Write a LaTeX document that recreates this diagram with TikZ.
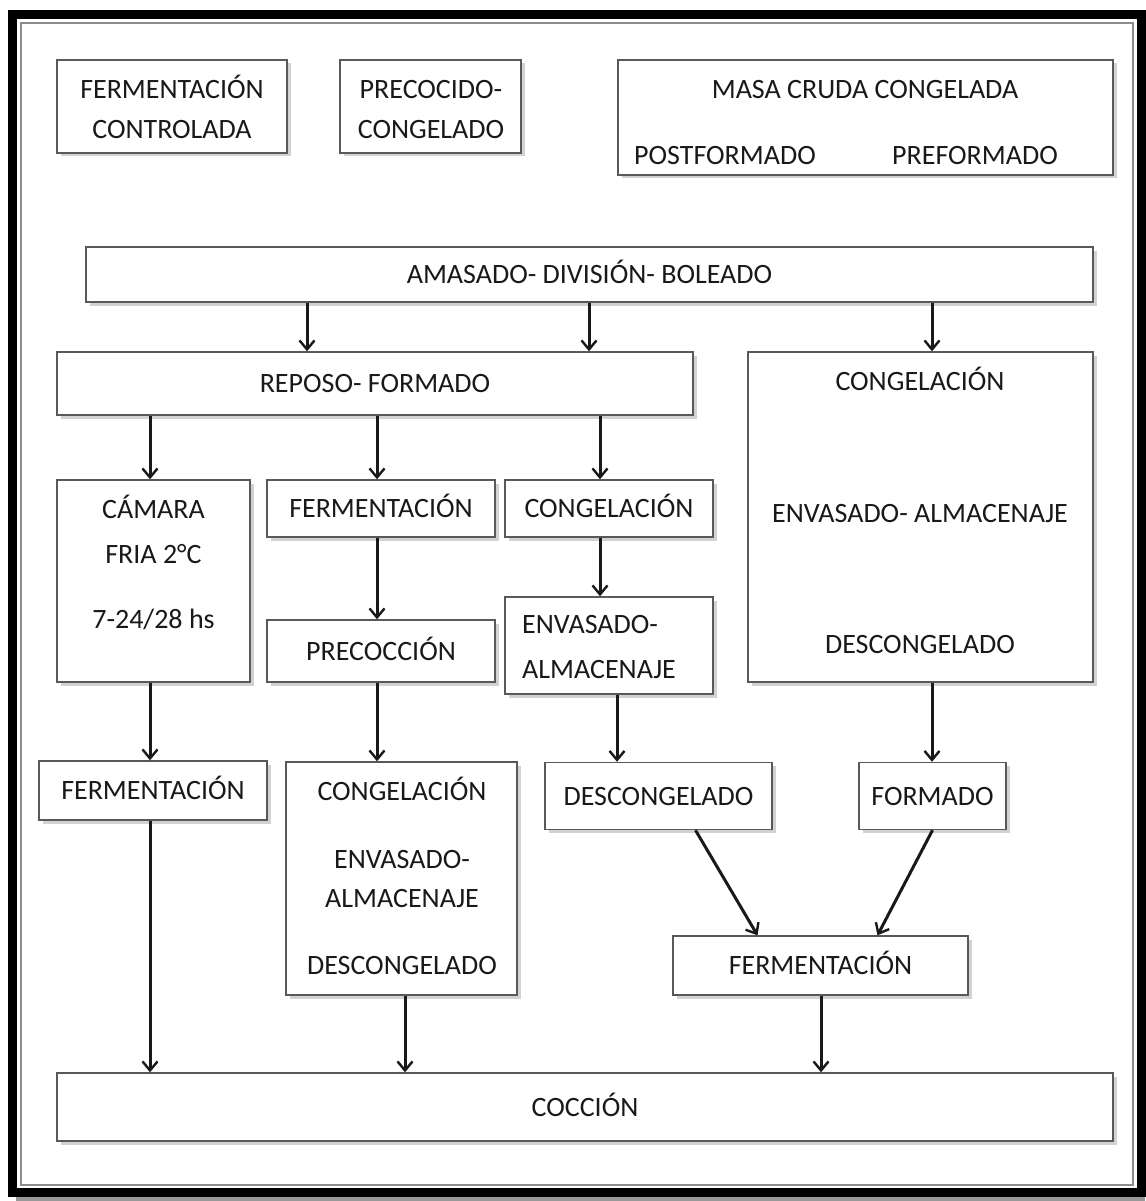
\documentclass[tikz,border=0pt]{standalone}
\usepackage{fontspec}
\setmainfont{Carlito}
\usetikzlibrary{arrows.meta,shadows}
\newcommand\boxfont{\fontsize{28}{34}\selectfont}

\begin{document}
\begin{tikzpicture}[x=1pt, y=-1pt, font=\boxfont]
    \tikzset{box/.style={draw=black!65, line width=1.4pt, fill=white, inner sep=0pt,
        drop shadow={shadow xshift=3.5pt, shadow yshift=-3.5pt, opacity=0.35},
        text=black!90, text height=18pt, text depth=0pt},
      txt/.style={inner sep=0pt, text=black!90, text height=18pt, text depth=0pt},
      arr/.style={draw=black!90, line width=3pt, -{Straight Barb[length=9pt,width=15pt,line width=2.4pt]}}}

    \useasboundingbox[fill=white] (0,0) rectangle (1145,1201);

    % Outer frame
    \draw[line width=9pt] (12,15) rectangle (1141,1192);
    \draw[black!45, line width=1.5pt] (21,23) rectangle (1133,1185);
    \draw[black!40, line width=4pt] (16,1199) -- (1145,1199);

    % Top row (types of process)
    \node[box, minimum width=230, minimum height=93] (ferctl) at (172,106.5) {};
    \node[txt] (ferctl1) at (172,90) {FERMENTACIÓN};
    \node[txt] (ferctl2) at (172,130) {CONTROLADA};
    \node[box, minimum width=181, minimum height=93] (precoc) at (430.5,106.5) {};
    \node[txt] (precoc1) at (431,90) {PRECOCIDO-};
    \node[txt] (precoc2) at (431,130) {CONGELADO};
    \node[box, minimum width=495, minimum height=115] (masa) at (865.5,117.5) {};
    \node[txt] (masa1) at (865,90) {MASA CRUDA CONGELADA};
    \node[txt] (masa2) at (725,156) {POSTFORMADO};
    \node[txt] (masa3) at (975,156) {PREFORMADO};

    % Common steps
    \node[box, minimum width=1007, minimum height=55] (amasado) at (589.5,274.5) {AMASADO- DIVISIÓN- BOLEADO};
    \node[box, minimum width=636, minimum height=63] (reposo) at (375,383.5) {REPOSO- FORMADO};
    \node[box, minimum width=345, minimum height=330] (congr) at (920.5,517) {};
    \node[txt] (congr1) at (920,381) {CONGELACIÓN};
    \node[txt] (congr2) at (920,513) {ENVASADO- ALMACENAJE};
    \node[txt] (congr3) at (920,644) {DESCONGELADO};

    % Second level
    \node[box, minimum width=193, minimum height=202] (camara) at (153.5,581) {};
    \node[txt] (camara1) at (153.5,509) {CÁMARA};
    \node[txt] (camara2) at (153.5,554) {FRIA 2°C};
    \node[txt] (camara3) at (153.5,619) {7-24/28 hs};
    \node[box, minimum width=228, minimum height=57] (ferm2) at (381,508.5) {FERMENTACIÓN};
    \node[box, minimum width=208, minimum height=57] (cong3) at (609,508.5) {CONGELACIÓN};
    \node[box, minimum width=228, minimum height=62] (precoccion) at (381,651) {PRECOCCIÓN};
    \node[box, minimum width=208, minimum height=97] (envas3) at (609,645.5) {};
    \node[txt, anchor=west] (envas31) at (522,624) {ENVASADO-};
    \node[txt, anchor=west] (envas32) at (522,669) {ALMACENAJE};

    % Third level
    \node[box, minimum width=228, minimum height=59] (ferm1) at (153,790.5) {FERMENTACIÓN};
    \node[box, minimum width=231, minimum height=233] (cong2) at (401.5,878.5) {};
    \node[txt] (cong21) at (402,791) {CONGELACIÓN};
    \node[txt] (cong22) at (402,859) {ENVASADO-};
    \node[txt] (cong23) at (402,898) {ALMACENAJE};
    \node[txt] (cong24) at (402,965) {DESCONGELADO};
    \node[box, minimum width=227, minimum height=67] (descong3) at (658.5,796) {DESCONGELADO};
    \node[box, minimum width=147, minimum height=67] (formado) at (932.5,796) {FORMADO};
    \node[box, minimum width=295, minimum height=59] (fermb) at (820.5,965.5) {FERMENTACIÓN};
    \node[box, minimum width=1056, minimum height=68] (coccion) at (585,1107) {COCCIÓN};

    % Arrow columns
    \coordinate (k1) at (307,0);
    \coordinate (k2) at (589,0);
    \coordinate (k3) at (932,0);
    \coordinate (k4) at (150,0);
    \coordinate (k5) at (377,0);
    \coordinate (k6) at (600,0);
    \coordinate (k7) at (617,0);
    \coordinate (k8) at (405,0);
    \coordinate (k9) at (821,0);

    % Arrows
    \draw[arr] (amasado.south -| k1) -- (reposo.north -| k1);
    \draw[arr] (amasado.south -| k2) -- (reposo.north -| k2);
    \draw[arr] (amasado.south -| k3) -- (congr.north -| k3);
    \draw[arr] (reposo.south -| k4) -- (camara.north -| k4);
    \draw[arr] (reposo.south -| k5) -- (ferm2.north -| k5);
    \draw[arr] (reposo.south -| k6) -- (cong3.north -| k6);
    \draw[arr] (ferm2.south -| k5) -- (precoccion.north -| k5);
    \draw[arr] (cong3.south -| k6) -- (envas3.north -| k6);
    \draw[arr] (camara.south -| k4) -- (ferm1.north -| k4);
    \draw[arr] (precoccion.south -| k5) -- (cong2.north -| k5);
    \draw[arr] (envas3.south -| k7) -- (descong3.north -| k7);
    \draw[arr] (congr.south -| k3) -- (formado.north -| k3);
    \draw[arr] ([xshift=37pt]descong3.south) -- ([xshift=-63pt]fermb.north);
    \draw[arr] (formado.south) -- ([xshift=57pt]fermb.north);
    \draw[arr] (ferm1.south -| k4) -- (coccion.north -| k4);
    \draw[arr] (cong2.south -| k8) -- (coccion.north -| k8);
    \draw[arr] (fermb.south -| k9) -- (coccion.north -| k9);

\end{tikzpicture}
\end{document}
